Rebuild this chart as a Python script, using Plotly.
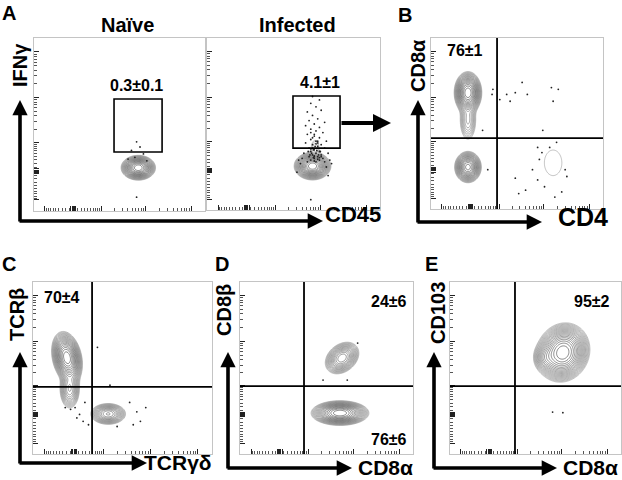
import numpy as np
import plotly.graph_objects as go

W, H = 622, 480
FONT = "Liberation Sans, Arial, sans-serif"

# ---- values (display units 0..1 on each biexponential axis)
panel_ids = ["naive", "infected", "B", "C", "D", "E"]

# populations: centre x, centre y, sd x, sd y, correlation, relative peak height
pops_naive = [(0.61, 0.25, 0.035, 0.025, 0.0, 1.0)]
pops_infected = [(0.61, 0.255, 0.037, 0.028, 0.0, 1.0),
                 (0.625, 0.36, 0.02, 0.04, 0.0, 0.03)]
pops_B = [(0.215, 0.68, 0.028, 0.043, 0.0, 1.0),
          (0.215, 0.52, 0.024, 0.06, 0.0, 0.09),
          (0.215, 0.245, 0.028, 0.033, 0.0, 0.75),
          (0.71, 0.27, 0.085, 0.125, 0.0, 0.019)]
pops_C = [(0.19, 0.56, 0.03, 0.053, -0.25, 1.0),
          (0.205, 0.38, 0.024, 0.05, 0.0, 0.2),
          (0.42, 0.233, 0.04, 0.025, 0.0, 0.3)]
pops_D = [(0.59, 0.558, 0.039, 0.037, 0.3, 0.35),
          (0.578, 0.238, 0.058, 0.025, 0.0, 1.0)]
pops_E = [(0.66, 0.59, 0.055, 0.06, 0.1, 1.0),
          (0.56, 0.56, 0.03, 0.035, 0.0, 0.15)]

# sparse events (x, y)
dots_naive_x = [0.60, 0.57, 0.64, 0.59, 0.62, 0.60, 0.55, 0.66]
dots_naive_y = [0.40, 0.35, 0.33, 0.31, 0.37, 0.08, 0.30, 0.29]
dots_inf_x = [0.60, 0.63, 0.58, 0.66, 0.61, 0.64, 0.59, 0.68, 0.62, 0.57, 0.65, 0.60,
              0.63, 0.67, 0.58, 0.62, 0.65, 0.60, 0.69, 0.63, 0.57, 0.66, 0.61, 0.64,
              0.59, 0.68, 0.62, 0.65, 0.60, 0.63, 0.70, 0.56, 0.66, 0.61, 0.64, 0.59,
              0.67, 0.62, 0.55, 0.71, 0.65, 0.60, 0.63, 0.58, 0.68, 0.54, 0.72, 0.61,
              0.65, 0.62, 0.61, 0.64, 0.60, 0.52, 0.70, 0.53, 0.69, 0.62, 0.615, 0.635,
              0.605, 0.645, 0.625, 0.655, 0.595, 0.615, 0.64, 0.62, 0.60, 0.66, 0.585,
              0.63, 0.61, 0.65, 0.62, 0.60, 0.64]
dots_inf_y = [0.62, 0.60, 0.57, 0.58, 0.55, 0.53, 0.52, 0.51, 0.50, 0.49, 0.48, 0.47,
              0.46, 0.45, 0.44, 0.43, 0.42, 0.41, 0.40, 0.40, 0.39, 0.38, 0.38, 0.37,
              0.36, 0.36, 0.35, 0.34, 0.34, 0.33, 0.33, 0.33, 0.32, 0.32, 0.31, 0.31,
              0.30, 0.30, 0.30, 0.29, 0.29, 0.29, 0.28, 0.28, 0.28, 0.27, 0.27, 0.66,
              0.64, 0.44, 0.36, 0.39, 0.06, 0.22, 0.20, 0.29, 0.25, 0.31, 0.35, 0.345,
              0.33, 0.32, 0.37, 0.34, 0.32, 0.305, 0.295, 0.315, 0.355, 0.31, 0.34,
              0.385, 0.42, 0.305, 0.285, 0.45, 0.40]
dots_B_x = [0.53, 0.49, 0.56, 0.44, 0.36, 0.355, 0.70, 0.74, 0.71, 0.46, 0.65, 0.40,
            0.62, 0.645, 0.59, 0.62, 0.49, 0.51, 0.55, 0.66, 0.72, 0.76, 0.79, 0.73,
            0.69, 0.63, 0.78, 0.33, 0.30]
dots_B_y = [0.74, 0.68, 0.67, 0.67, 0.70, 0.67, 0.71, 0.70, 0.63, 0.63, 0.46, 0.64,
            0.36, 0.33, 0.23, 0.17, 0.18, 0.09, 0.11, 0.13, 0.07, 0.10, 0.19, 0.39,
            0.36, 0.29, 0.23, 0.23, 0.46]
dots_C_x = [0.18, 0.21, 0.26, 0.245, 0.28, 0.31, 0.36, 0.43, 0.54, 0.63, 0.58, 0.56,
            0.60, 0.47, 0.29, 0.235]
dots_C_y = [0.27, 0.26, 0.23, 0.21, 0.19, 0.17, 0.62, 0.40, 0.30, 0.27, 0.245, 0.17,
            0.19, 0.16, 0.30, 0.27]
dots_D_x = [0.48, 0.62, 0.68]
dots_D_y = [0.43, 0.43, 0.645]
dots_E_x = [0.60, 0.66]
dots_E_y = [0.244, 0.24]

# quadrant gates (x, y) and rectangular gates (x0, x1, y0, y1)
quad_B = (0.384, 0.415)
quad_C = (0.33, 0.39)
quad_D = (0.37, 0.395)
quad_E = (0.38, 0.395)
gate_naive = (0.468, 0.749, 0.341, 0.647)
gate_infected = (0.497, 0.769, 0.36, 0.663)

stat_labels = ["0.3±0.1", "4.1±1", "76±1", "70±4", "24±6", "76±6", "95±2"]
x_titles = ["CD45", "CD4", "TCRγδ", "CD8α", "CD8α"]
y_titles = ["IFNγ", "CD8α", "TCRβ", "CD8β", "CD103"]
col_titles = ["Naïve", "Infected"]
panel_letters = ["A", "B", "C", "D", "E"]

# biexponential tick marks
U0, DEC, WLIN = 0.23, 0.265, 25.0


def biex(v):
    return U0 + DEC * np.arcsinh(np.asarray(v, float) / (2 * WLIN)) / np.log(10)


major_vals = [-100, -6, -3, 0, 3, 6, 100, 1000, 10000]
minor_vals = [s * m * 10 ** k for k in (1, 2, 3, 4) for m in range(1, 10)
              for s in (1, -1) if not (m == 1 and k > 1)]
major_ticks = [float(t) for t in biex(major_vals) if 0 < t < 1]
minor_ticks = [float(t) for t in biex(minor_vals) if 0 < t < 1]

# plot boxes in pixels (x0, x1, y0, y1)
boxes = {
    "naive": (34, 205, 38, 211),
    "infected": (207, 380, 38, 210),
    "B": (431, 603, 38, 209),
    "C": (33, 212, 282, 454),
    "D": (240, 413, 282, 454),
    "E": (450, 621, 282, 454),
}
pops = {"naive": pops_naive, "infected": pops_infected, "B": pops_B,
        "C": pops_C, "D": pops_D, "E": pops_E}
dots = {"naive": (dots_naive_x, dots_naive_y), "infected": (dots_inf_x, dots_inf_y),
        "B": (dots_B_x, dots_B_y), "C": (dots_C_x, dots_C_y),
        "D": (dots_D_x, dots_D_y), "E": (dots_E_x, dots_E_y)}

fig = go.Figure()
grid = np.linspace(0, 1, 201)
gx, gy = np.meshgrid(grid, grid)

layout_axes = {}
shapes = []
for i, pid in enumerate(panel_ids):
    n = "" if i == 0 else str(i + 1)
    xa, ya = "x" + n, "y" + n
    x0, x1, y0, y1 = boxes[pid]
    common = dict(range=[0, 1], showgrid=False, zeroline=False, showline=True,
                  mirror=True, linecolor="#c4c4c4", linewidth=1, ticks="inside",
                  ticklen=5, tickwidth=1, tickcolor="#222", tickmode="array",
                  showticklabels=False, fixedrange=True,
                  minor=dict(ticks="inside", ticklen=3, tickcolor="#555",
                             tickmode="array", tickvals=minor_ticks))
    layout_axes["xaxis" + n] = dict(common, domain=[x0 / W, x1 / W], anchor=ya,
                                    tickvals=major_ticks)
    layout_axes["yaxis" + n] = dict(common, domain=[1 - y1 / H, 1 - y0 / H], anchor=xa,
                                    tickvals=major_ticks)

    z = np.zeros_like(gx)
    for cx, cy, sx, sy, r, w in pops[pid]:
        dx, dy = (gx - cx) / sx, (gy - cy) / sy
        z += w * np.exp(-0.5 / (1 - r * r) * (dx * dx - 2 * r * dx * dy + dy * dy))
    z = np.log10(z / z.max() + 1e-9)
    fig.add_trace(go.Contour(
        x=grid, y=grid, z=z, xaxis=xa, yaxis=ya, showscale=False, hoverinfo="skip",
        contours=dict(start=-1.8, end=-0.03, size=0.09, coloring="lines"),
        colorscale=[[0, "#9a9a9a"], [1, "#3a3a3a"]], zmin=-1.8, zmax=0,
        line=dict(width=0.6)))
    dx_, dy_ = dots[pid]
    fig.add_trace(go.Scatter(x=dx_, y=dy_, xaxis=xa, yaxis=ya, mode="markers",
                             marker=dict(size=1.8, color="#222"), hoverinfo="skip"))

# gates
for n, g in (("", gate_naive), ("2", gate_infected)):
    shapes.append(dict(type="rect", xref="x" + n, yref="y" + n, x0=g[0], x1=g[1],
                       y0=g[2], y1=g[3], line=dict(color="black", width=1.6)))
for n, q in (("3", quad_B), ("4", quad_C), ("5", quad_D), ("6", quad_E)):
    shapes.append(dict(type="line", xref="x" + n, yref="y" + n, x0=q[0], x1=q[0],
                       y0=0, y1=1, line=dict(color="black", width=1.8)))
    shapes.append(dict(type="line", xref="x" + n, yref="y" + n, x0=0, x1=1,
                       y0=q[1], y1=q[1], line=dict(color="black", width=1.8)))

annotations = []


def label(txt, cx, cy, size, angle=0):
    annotations.append(dict(x=cx / W, y=1 - cy / H, xref="paper", yref="paper",
                            text=f"<b>{txt}</b>", showarrow=False, textangle=angle,
                            font=dict(size=size, color="black", family=FONT),
                            xanchor="center", yanchor="middle"))


def arrow(tip, tail, width=3.6, size=0.85):
    annotations.append(dict(x=tip[0] / W, y=1 - tip[1] / H, xref="paper", yref="paper",
                            ax=tail[0] - tip[0], ay=tail[1] - tip[1],
                            axref="pixel", ayref="pixel", text="", showarrow=True,
                            arrowhead=2, arrowsize=size, arrowwidth=width,
                            arrowcolor="black", standoff=0, startstandoff=0))


# axis arrows: corner, vertical tip, horizontal tip
corners = [((20, 221), (20, 100), (323, 221)),
           ((418, 222), (418, 100), (542, 222)),
           ((20, 463), (20, 352), (147, 463)),
           ((228, 468), (228, 352), (352, 468)),
           ((434, 468), (434, 352), (557, 468))]
for c, vt, ht in corners:
    arrow(vt, (c[0], c[1] + 2))
    arrow(ht, (c[0] - 2, c[1]))
arrow((391, 123), (340, 123), width=4, size=0.9)

for txt, (cx, cy) in zip(panel_letters, [(9, 13), (405, 15), (9, 264), (222, 264), (431, 264)]):
    label(txt, cx, cy, 20)
for txt, (cx, cy) in zip(col_titles, [(127, 25), (297, 25)]):
    label(txt, cx, cy, 20)
for txt, (cx, cy) in zip(stat_labels, [(136, 85), (320, 82), (465, 51), (62, 297),
                                       (389, 301), (389, 439), (592, 301)]):
    label(txt, cx, cy, 16)
for txt, (cx, cy, s) in zip(x_titles, [(353, 214, 22), (583, 217, 25), (178, 462, 21),
                                       (385, 467, 21), (590, 467, 21)]):
    label(txt, cx, cy, s)
for txt, (cx, cy) in zip(y_titles, [(20, 65), (418, 65), (17, 315), (224, 310), (438, 313)]):
    label(txt, cx, cy, 20, angle=-90)

fig.update_layout(width=W, height=H, margin=dict(l=0, r=0, t=0, b=0),
                  paper_bgcolor="white", plot_bgcolor="white", showlegend=False,
                  shapes=shapes, annotations=annotations, **layout_axes)
# drop the page's default body margin so the figure sits at the window origin
fig.write_html("out.html", config={"displayModeBar": False},
               post_script="document.body.style.margin='0px';")
